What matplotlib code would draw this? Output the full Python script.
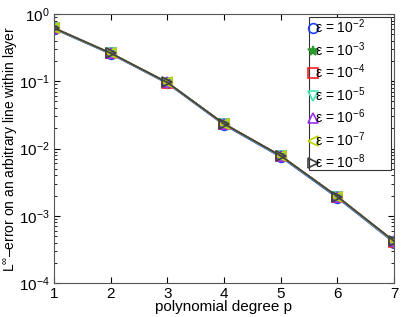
import matplotlib
matplotlib.use('Agg')
import matplotlib.pyplot as plt
from matplotlib.patches import Rectangle

plt.rcParams['font.family'] = ['Liberation Sans', 'DejaVu Sans']
plt.rcParams['mathtext.fontset'] = 'custom'
plt.rcParams['mathtext.rm'] = 'Liberation Sans'
plt.rcParams['mathtext.it'] = 'Liberation Sans:italic'

# polynomial degree and error per epsilon
degree = [1, 2, 3, 4, 5, 6, 7]
err_e2 = [0.60, 0.255, 0.093, 0.0225, 0.0075, 0.00185, 0.00040]
err_e3 = [0.61, 0.258, 0.095, 0.0230, 0.0077, 0.00190, 0.00041]
err_e4 = [0.61, 0.260, 0.095, 0.0232, 0.0078, 0.00192, 0.00041]
err_e5 = [0.61, 0.259, 0.095, 0.0231, 0.0077, 0.00191, 0.00041]
err_e6 = [0.62, 0.262, 0.096, 0.0233, 0.0078, 0.00193, 0.00042]
err_e7 = [0.62, 0.262, 0.096, 0.0233, 0.0078, 0.00193, 0.00042]
err_e8 = [0.62, 0.262, 0.096, 0.0233, 0.0078, 0.00193, 0.00042]

series = [err_e2, err_e3, err_e4, err_e5, err_e6, err_e7, err_e8]
labels = ['ε = 10$^{-%d}$' % k for k in range(2, 9)]
colors = ['#2040ff', '#2a9a2a', '#ff2020', '#40e8b0', '#9a30f0', '#c0d400', '#404040']
markers = ['o', '*', 's', 'v', '^', '<', '>']

fig = plt.figure(figsize=(4.05, 3.17), dpi=100)
ax = fig.add_axes([54/405, 1 - 283/317, 340/405, 269/317])

for vals, lab, c, m in zip(series, labels, colors, markers):
    face = c if m == '*' else 'none'
    ax.semilogy(degree, vals, color=c, marker=m, markersize=7,
                markerfacecolor=face, markeredgecolor=c, markeredgewidth=1.2,
                linewidth=1.2, label=lab)

ax.set_xlim(1, 7)
ax.set_ylim(1e-4, 1)
ax.set_xticks(degree)
ax.tick_params(which='both', direction='in', top=True, right=True, labelsize=11)
ax.tick_params(which='major', length=4, pad=3)
ax.tick_params(which='minor', length=2)
for sp in ax.spines.values():
    sp.set_color('#555555')

ax.set_xlabel('polynomial degree p', fontsize=11, labelpad=-1)
ax.set_ylabel('L$^{\\infty}$–error on an arbitrary line within layer', fontsize=10, labelpad=0)

# matlab-like legend: markers only, box wider than the entries
box = Rectangle((309/405, 1 - 170/317), 82/405, 153/317, transform=fig.transFigure,
                facecolor='white', edgecolor='#333333', linewidth=0.8, zorder=4)
box.set_clip_on(False)
ax.add_artist(box)
leg = ax.legend(loc='upper left', bbox_to_anchor=(299/405, 1 - 8/317),
                bbox_transform=fig.transFigure, fontsize=10,
                handlelength=0.6, handletextpad=-0.12, borderpad=0.2,
                labelspacing=0.28, frameon=False)
for h in leg.get_lines():
    h.set_linestyle('none')
leg.set_zorder(5)

fig.savefig('out.png', dpi=100)
